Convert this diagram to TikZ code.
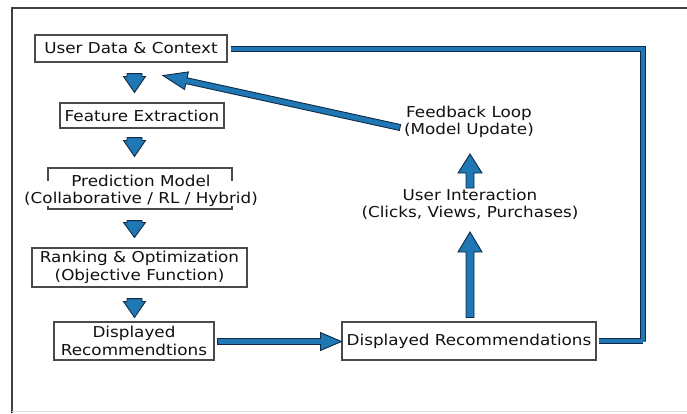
\documentclass[tikz,border=0pt]{standalone}
\usepackage{fontspec}
\setmainfont{DejaVu Sans}[FakeStretch=1.12]
\usetikzlibrary{calc}

\definecolor{flowblue}{HTML}{1F77B4}
\definecolor{flowedge}{HTML}{0E2A47}
\definecolor{boxedge}{HTML}{4A4A4A}
\definecolor{ink}{HTML}{111111}

% Block arrow from #1 to #2: half shaft width #3, half head width #4, head length #5
\newcommand\fatarrow[5]{%
  \filldraw[fatarrow] let \p1=(#1), \p2=(#2),
    \n1={atan2(\y2-\y1,\x2-\x1)}, \n2={veclen(\x2-\x1,\y2-\y1)} in
    ($(\p1)+(\n1+90:#3)$) --
    ($(\p1)+(\n1:\n2-#5)+(\n1+90:#3)$) --
    ($(\p1)+(\n1:\n2-#5)+(\n1+90:#4)$) --
    (\p2) --
    ($(\p1)+(\n1:\n2-#5)+(\n1-90:#4)$) --
    ($(\p1)+(\n1:\n2-#5)+(\n1-90:#3)$) --
    ($(\p1)+(\n1-90:#3)$) -- cycle;}

\begin{document}
\begin{tikzpicture}[x=1pt,y=-1pt,
  font=\fontsize{15}{17.4}\selectfont,
  box/.style={draw=boxedge, line width=1.1pt, fill=white, text=ink,
    inner sep=0pt, align=center},
  plaintext/.style={text=ink, inner sep=0pt, align=center},
  fatarrow/.style={fill=flowblue, draw=flowedge, line width=0.9pt, line join=miter},
  loopline/.style={draw=flowedge, line width=0.9pt, double=flowblue,
    double distance=4.5pt},
  outerframe/.style={draw=black!75, line width=1.1pt},
  faintframe/.style={draw=black!12, line width=0.8pt}]

\useasboundingbox (0,0) rectangle (687,413);

% outer frame
\draw[outerframe] (687,8) -- (12,8) -- (12,413);
\draw[faintframe] (12,411) -- (687,411);

% pipeline column
\node[box, minimum width=192pt, minimum height=27pt] (ud) at (131,48.5)
  {User Data \& Context};
\node[box, minimum width=164pt, minimum height=25pt] (fe) at (142,115.5)
  {Feature Extraction};
\node[box, minimum width=184pt, minimum height=41pt] (pm) at (140,188.5) {};
\node[plaintext, fill=white, anchor=base, text height=22pt, text depth=2.5pt,
  inner xsep=1pt] (pmsub) at (141,203) {(Collaborative / RL / Hybrid)};
\node[plaintext, anchor=base] (pmtitle) at (141,186.5) {Prediction Model};
\node[box, minimum width=215pt, minimum height=39pt] (rk) at (139.5,267.5)
  {Ranking \& Optimization\\(Objective Function)};
\node[box, minimum width=160pt, minimum height=38pt] (dl) at (134,341)
  {Displayed\\Recommendtions};

% right side
\node[box, minimum width=254pt, minimum height=38pt] (dr) at (469,341)
  {Displayed Recommendations};
\node[plaintext] (ui) at (470,204.5) {User Interaction\\(Clicks, Views, Purchases)};
\node[plaintext] (fb) at (469,122) {Feedback Loop\\(Model Update)};

% arrow end points
\coordinate (a1s) at ($(ud.south -| dl.north)+(0.5,11)$);
\coordinate (a1e) at ($(fe.north -| dl.north)+(0.5,-10)$);
\coordinate (a2s) at ($(fe.south -| dl.north)+(0.5,9)$);
\coordinate (a2e) at ($(pm.north -| dl.north)+(0.5,-11)$);
\coordinate (a3s) at ($(pm.south -| dl.north)+(0.5,11)$);
\coordinate (a3e) at ($(rk.north -| dl.north)+(0.5,-10)$);
\coordinate (a4s) at ($(rk.south -| dl.north)+(0.5,11)$);
\coordinate (a4e) at ($(dl.north)+(0.5,-4)$);
\coordinate (hs) at ($(dl.east)+(3,0.5)$);
\coordinate (he) at ($(dr.west)+(0,0.5)$);
\coordinate (us) at ($(dr.north)+(1,-4)$);
\coordinate (ue) at (470,232);
\coordinate (fs) at (470,188);
\coordinate (fe2) at (470,154);
\coordinate (ds) at (400,127.5);
\coordinate (de) at ($(ud.south)+(32,13)$);
\coordinate (loopcorner) at (643,341.5);

% feedback loop line
\draw[loopline] ([xshift=3pt,yshift=-0.5pt]ud.east) -| (loopcorner)
  |- ([xshift=2pt]dr.east);

% block arrows
\fatarrow{a1s}{a1e}{7.5pt}{11pt}{16pt}
\fatarrow{a2s}{a2e}{7.5pt}{11pt}{16pt}
\fatarrow{a3s}{a3e}{7.5pt}{11pt}{15pt}
\fatarrow{a4s}{a4e}{7.5pt}{11pt}{16pt}
\fatarrow{hs}{he}{3pt}{9pt}{21pt}
\fatarrow{us}{ue}{4pt}{12pt}{20pt}
\fatarrow{fs}{fe2}{4pt}{12pt}{19pt}
\fatarrow{ds}{de}{3pt}{9pt}{24pt}

\end{tikzpicture}
\end{document}
